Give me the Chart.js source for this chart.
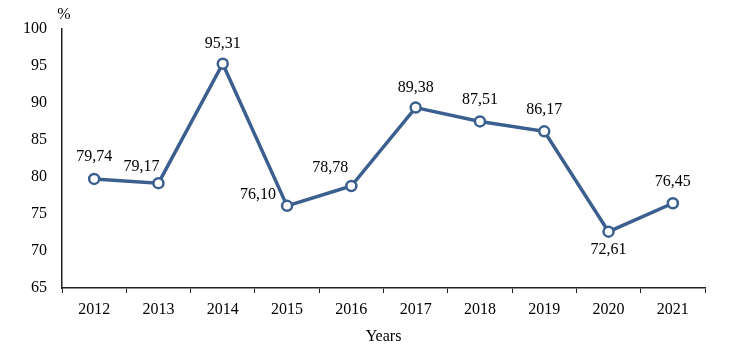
<html lang="en">
<head>
  <meta charset="UTF-8">
  <title>Chart</title>
  <script src="https://cdn.jsdelivr.net/npm/chart.js@4/dist/chart.umd.min.js"></script>
  <style>
    html, body { margin: 0; padding: 0; background: #fff; }
    .container { position: relative; width: 734px; height: 346px; }
  </style>
</head>
<body>
  <div class="container"><canvas id="chart"></canvas></div>

  <script>
    var years = ['2012', '2013', '2014', '2015', '2016', '2017', '2018', '2019', '2020', '2021'];
    var rates = [79.74, 79.17, 95.31, 76.10, 78.78, 89.38, 87.51, 86.17, 72.61, 76.45];
    var yTicks = [65, 70, 75, 80, 85, 90, 95, 100];

    // label nudges (dx, dy from point centre)
    var labelShift = [[0, -22], [-17, -16], [0, -20], [-29, -11], [-21, -18], [0, -20], [0, -22], [0, -22], [0, 18], [0, -21]];

    var blue = '#3b5f8e';
    var font = { family: '"Liberation Serif", "Times New Roman", serif', size: 16 };

    var valueLabels = {
      id: 'valueLabels',
      afterDatasetsDraw: function(chart){
        var ctx = chart.ctx, meta = chart.getDatasetMeta(0);
        ctx.save();
        ctx.font = font.size + 'px ' + font.family;
        ctx.fillStyle = '#000';
        ctx.textAlign = 'center';
        ctx.textBaseline = 'middle';
        meta.data.forEach(function(pt, i){
          var s = labelShift[i];
          ctx.fillText(rates[i].toFixed(2).replace('.', ','), pt.x + s[0], pt.y + s[1]);
        });
        // unit on top of the y axis
        ctx.fillText('%', chart.chartArea.left + 2, 15);
        ctx.restore();
      }
    };

    new Chart(document.getElementById('chart'), {
      type: 'line',
      data: {
        labels: years,
        datasets: [{
          data: rates,
          borderColor: blue,
          borderWidth: 3.5,
          backgroundColor: '#fff',
          pointBackgroundColor: '#fff',
          pointBorderColor: blue,
          pointBorderWidth: 2.5,
          pointRadius: 5,
          tension: 0
        }]
      },
      options: {
        responsive: true,
        maintainAspectRatio: false,
        animation: false,
        layout: { padding: { top: 29, right: 29, left: 0, bottom: 0 } },
        plugins: { legend: { display: false }, tooltip: { enabled: false } },
        scales: {
          x: {
            offset: true,
            grid: { offset: true, drawOnChartArea: false, drawTicks: true, tickLength: 5, color: '#222' },
            border: { color: '#222', width: 1.5 },
            ticks: { color: '#000', font: font, padding: 7, maxRotation: 0 },
            title: { display: true, text: 'Years', color: '#000', font: font, padding: { top: 1, bottom: 0 } },
            afterFit: function(scale){ scale.height = 58; }
          },
          y: {
            min: 65,
            max: 100,
            afterBuildTicks: function(scale){
              scale.ticks = yTicks.map(function(v){ return { value: v }; });
            },
            grid: { drawOnChartArea: false, drawTicks: false },
            border: { color: '#222', width: 1.5 },
            ticks: { color: '#000', font: font, padding: 15 },
            afterFit: function(scale){ scale.width = 62; }
          }
        }
      },
      plugins: [valueLabels]
    });
  </script>
</body>
</html>
